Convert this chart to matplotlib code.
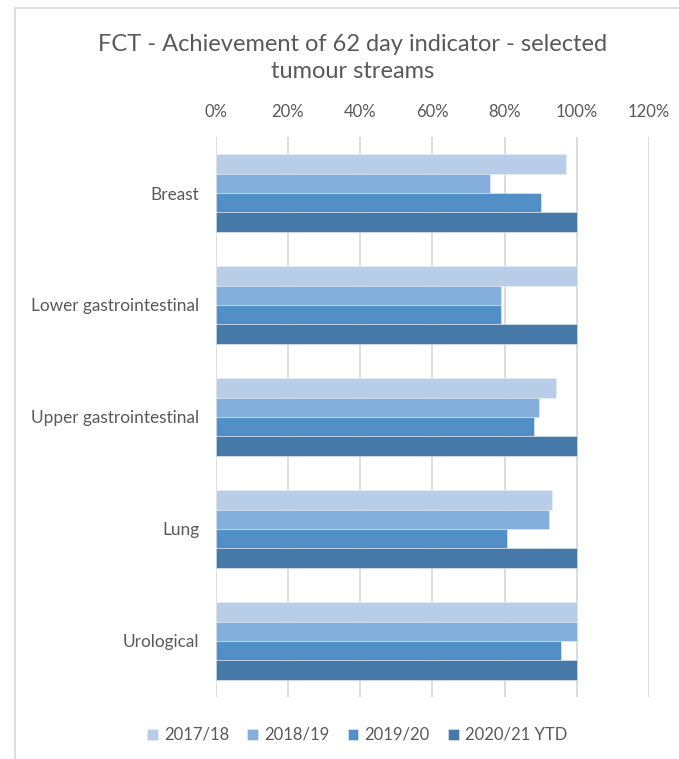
import numpy as np
import matplotlib
matplotlib.use("Agg")
from matplotlib import pyplot as plt
from matplotlib.patches import Rectangle

plt.rcParams['font.family'] = ['Lato', 'DejaVu Sans']

streams = ['Breast', 'Lower gastrointestinal', 'Upper gastrointestinal', 'Lung', 'Urological']
years = ['2017/18', '2018/19', '2019/20', '2020/21 YTD']

# % of patients treated within 62 days, per tumour stream
fy_1718 = [97, 100, 94.2, 93.2, 100]
fy_1819 = [76, 78.9, 89.5, 92.2, 100]
fy_1920 = [90.2, 79, 88.2, 80.7, 95.7]
fy_2021 = [100, 100, 100, 100, 100]

colours = ['#B8CDE8', '#84AFDC', '#538FC7', '#4679A7']
grey = '#595959'

fig = plt.figure(figsize=(6.79, 7.59), dpi=100)
ax = fig.add_axes([215.7 / 679, 1 - 697 / 759, 433.3 / 679, 560 / 759])

y = np.arange(len(streams))
h = 0.172
for i, (vals, name) in enumerate(zip([fy_1718, fy_1819, fy_1920, fy_2021], years)):
    ax.barh(y + (i - 1.5) * h, np.array(vals) / 100, height=h, color=colours[i],
            edgecolor='#E8EEF6', linewidth=0.4, label=name, zorder=3)

ax.set_xlim(0, 1.2)
ax.set_ylim(len(streams) - 0.5, -0.5)
ax.set_xticks(np.arange(0, 1.21, 0.2))
ax.set_xticklabels([f'{int(round(t * 100))}%' for t in np.arange(0, 1.21, 0.2)])
ax.xaxis.tick_top()
ax.tick_params(axis='x', length=0, pad=12, labelsize=12, labelcolor=grey)
ax.set_yticks(y)
ax.set_yticklabels(streams)
ax.tick_params(axis='y', length=0, pad=12, labelsize=12.4, labelcolor=grey)
ax.grid(axis='x', color='#D9D9D9', linewidth=1.3, zorder=0)
for s in ax.spines.values():
    s.set_visible(False)

fig.text(353 / 679, 1 - 58 / 759,
         'FCT - Achievement of 62 day indicator - selected\ntumour streams',
         ha='center', va='center', fontsize=17, color=grey, linespacing=1.3)

fig.legend(loc='center', bbox_to_anchor=(357 / 679, 1 - 735 / 759), ncol=4,
           frameon=False, fontsize=12, labelcolor=grey, handlelength=0.65,
           handleheight=0.65, handletextpad=0.35, columnspacing=1.1)

# chart frame
fig.patches.append(Rectangle((15 / 679, -0.01), 1, 1 - 8 / 759 + 0.01,
                             transform=fig.transFigure, fill=False,
                             edgecolor='#D9D9D9', linewidth=1.2))

fig.savefig('out.png', dpi=100)
